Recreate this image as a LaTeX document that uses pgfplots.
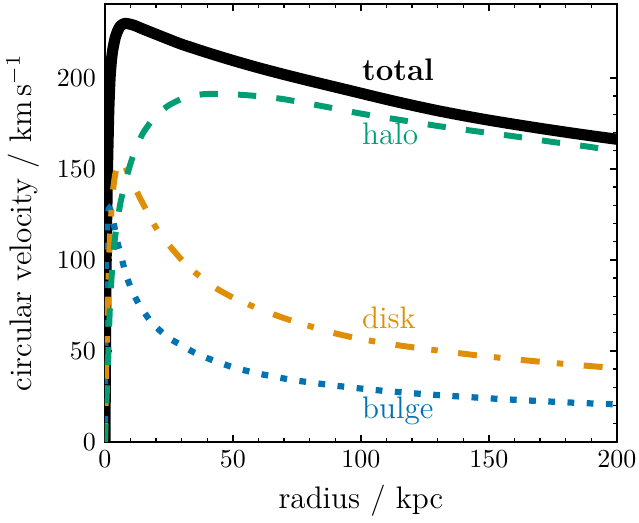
\documentclass[border=0pt]{standalone}
\usepackage{pgfplots}
\pgfplotsset{compat=1.18}
\definecolor{cbblue}{HTML}{0173B2}
\definecolor{cborange}{HTML}{DE8F05}
\definecolor{cbgreen}{HTML}{029E73}
\begin{document}
\begin{tikzpicture}
\begin{axis}[
  scale only axis, width=197.1pt, height=168.6pt,
  xmin=0, xmax=200, ymin=0, ymax=240.7,
  xtick={0,50,...,200}, ytick={0,50,...,200},
  minor x tick num=4, minor y tick num=4,
  tick align=inside,
  major tick length=2.7pt, minor tick length=1.6pt,
  every major tick/.style={line width=0.7pt, black},
  every minor tick/.style={line width=0.5pt, black},
  axis line style={line width=0.8pt},
  xlabel={radius / kpc},
  ylabel={circular velocity / km\,s$^{-1}$},
  label style={font=\large},
  ticklabel style={font=\normalsize},
]
\addplot[black, line width=4.3pt, line join=round, smooth, tension=0.4] coordinates {
(0,0) (0.25,60) (0.5,105) (1,150) (1.5,182) (2,200) (2.5,209) (3,215) (4,222) (5,226) (6,228.5) (7,229.6) (8,230) (10,229.5) (12,228.6) (15,226.8) (20,224) (25,221.2) (30,218.5) (40,213.9) (50,209.6) (60,205.6) (70,201.9) (80,198.4) (90,195) (100,191.6) (110,188.2) (120,185) (130,182) (140,179.3) (150,176.8) (160,174.5) (170,172.3) (180,170.2) (190,168.2) (200,166.3)
};
\addplot[cbblue, line width=2.4pt, line cap=butt, dash pattern=on 2.6pt off 4.8pt, smooth, tension=0.4] coordinates {
(0,0) (0.1,45) (0.25,78) (0.5,103) (0.75,116) (1,123) (1.5,128) (2,128) (3,123) (4,116) (5,109) (6,104) (8,93) (10,85) (12,79) (14,74) (18,66) (22,60.5) (25,57) (30,53) (35,49) (40,46) (50,41) (60,37.5) (72,34.3) (80,32.7) (90,30.9) (100,29.3) (110,27.9) (125,26.2) (140,24.8) (155,23.5) (170,22.4) (185,21.4) (200,20.6)
};
\addplot[cborange, line width=2.3pt, line cap=butt, dash pattern=on 7.3pt off 6.6pt on 2.5pt off 7.9pt, smooth, tension=0.4] coordinates {
(0,0) (0.25,20) (0.5,40) (1,70) (1.5,95) (2,114) (3,136) (4,147) (5,152) (6,153.5) (7,153) (8,151) (10,145) (13,136) (15,130.5) (19,120) (22,113) (26,106.5) (30,100) (35,93.3) (43,84.8) (50,79.3) (60,73.2) (70,68) (80,63.6) (90,59.6) (100,56.5) (115,53) (130,50.2) (145,47.6) (160,45.4) (175,43.4) (190,41.6) (200,40.5)
};
\addplot[cbgreen, line width=2.3pt, line cap=butt, dash pattern=on 7pt off 7.8pt, smooth, tension=0.4] coordinates {
(0,0) (0.25,10) (0.5,20) (1,36) (1.5,57) (2,76) (3,99) (4,113) (5,122) (6,131) (8,143) (10,153) (12,161) (15,170) (20,179.5) (25,185) (30,188.5) (35,190.4) (40,191.2) (50,191) (60,190) (70,188.3) (85,184.5) (100,180.4) (115,177) (130,173.6) (145,170.7) (160,167.9) (175,164.8) (190,162) (200,159.5)
};
\node[anchor=base west, inner sep=0pt, font=\large\bfseries, text=black] at (axis cs:100.3,198.4) {total};
\node[anchor=base west, inner sep=0pt, font=\large, text=cbgreen] at (axis cs:100.3,163.7) {halo};
\node[anchor=base west, inner sep=0pt, font=\large, text=cborange] at (axis cs:100.3,62.1) {disk};
\node[anchor=base west, inner sep=0pt, font=\large, text=cbblue] at (axis cs:100.3,13.0) {bulge};
\end{axis}
\path (current axis.south west) ++(-40.4pt,-31.2pt) coordinate (bbA);
\path (current axis.north east) ++(8.5pt,1.5pt) coordinate (bbB);
\pgfresetboundingbox
\useasboundingbox (bbA) rectangle (bbB);
\end{tikzpicture}
\end{document}
